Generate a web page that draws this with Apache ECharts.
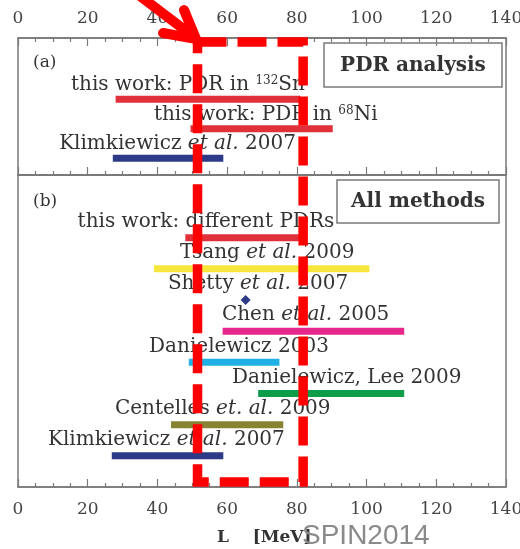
<!DOCTYPE html>
<html><head><meta charset="utf-8">
<script src="https://cdn.jsdelivr.net/npm/echarts@6/dist/echarts.min.js"></script>
<style>html,body{margin:0;padding:0;background:#fff;overflow:hidden}#c{width:520px;height:549px}</style>
</head><body><div id="c"></div>
<script>
// x axis
const xMin = 0, xMax = 140, xStep = 20;

// Panel (a): PDR analysis
const aLabels = ['this work: PDR in {sup|132}Sn', 'this work: PDR in {sup|68}Ni', 'Klimkiewicz {it|et al.} 2007'];
const aLow  = [28.0, 49.5, 27.2];
const aHigh = [81.0, 90.3, 58.9];
const aLabelX = [15.2, 39.0, 11.8];
const aColors = ['#e0313b', '#e0313b', '#2d3a88'];

// Panel (b): All methods
const bLabels = ['this work: different PDRs', 'Tsang {it|et al.} 2009', 'Shetty {it|et al.} 2007', 'Chen {it|et al.} 2005',
  'Danielewicz 2003', 'Danielewicz, Lee 2009', 'Centelles {it|et. al.} 2009', 'Klimkiewicz {it|et al.} 2007'];
const bLow  = [48.0, 39.0, 65.3, 58.7, 49.0, 68.9, 43.9, 26.9];
const bHigh = [81.0, 100.8, 65.3, 110.8, 75.0, 110.8, 76.1, 58.9];
const bLabelX = [17.1, 46.5, 43.0, 58.5, 37.6, 61.4, 27.8, 8.6];
const bColors = ['#e0313b', '#f6e53a', '#2d3a88', '#e6288a', '#1fb1e6', '#0c9d4b', '#878333', '#2d3a88'];

// highlighted L-range (red dashed box)
const highlight = [51.5, 81.8];

const SERIF = 'DejaVu Serif';
const GRAY = '#7a7a7a';
const TXT = '#333';

function makeRender(labels, colors, labelDy) {
  return function (params, api) {
    const i = params.dataIndex;
    const lo = api.value(0), hi = api.value(1), row = api.value(2), lx = api.value(3);
    const p0 = api.coord([lo, row]), p1 = api.coord([hi, row]), pl = api.coord([lx, row]);
    const children = [];
    if (hi > lo) {
      children.push({type: 'rect', shape: {x: p0[0], y: p0[1] - 3.5, width: p1[0] - p0[0], height: 7}, style: {fill: colors[i]}});
    } else {
      children.push({type: 'polygon', shape: {points: [[p0[0], p0[1] - 5], [p0[0] + 5, p0[1]], [p0[0], p0[1] + 5], [p0[0] - 5, p0[1]]]}, style: {fill: colors[i]}});
    }
    children.push({
      type: 'text', x: pl[0], y: pl[1] + labelDy,
      style: {
        text: labels[i], fontFamily: SERIF, fontSize: 20, fill: TXT, align: 'left', verticalAlign: 'middle',
        rich: {
          sup: {fontFamily: SERIF, fontSize: 12, fill: TXT, verticalAlign: 'top'},
          it: {fontFamily: SERIF, fontSize: 20, fontStyle: 'italic', fill: TXT}
        }
      }
    });
    return {type: 'group', children};
  };
}

function xAxisCfg(grid, pos, showLabel, margin) {
  return {
    type: 'value', gridIndex: grid, position: pos, min: xMin, max: xMax, interval: xStep,
    axisLine: {show: true, onZero: false, lineStyle: {color: GRAY, width: 1.5}},
    axisTick: {show: true, inside: true, length: 8, lineStyle: {color: GRAY, width: 1.2}},
    minorTick: {show: true, splitNumber: 4, length: 4, lineStyle: {color: GRAY, width: 1.2}},
    splitLine: {show: false},
    axisLabel: {show: showLabel, margin: margin, fontFamily: SERIF, fontSize: 17, color: '#444'}
  };
}

const chart = echarts.init(document.getElementById('c'), null, {renderer: 'canvas', width: 520, height: 549});
chart.setOption({
  animation: false,
  grid: [
    {left: 18, right: 14, top: 38, height: 137, outerBoundsMode: 'none', containLabel: false, show: true, borderColor: GRAY, borderWidth: 1.5, backgroundColor: 'transparent'},
    {left: 18, right: 14, top: 175, bottom: 62, outerBoundsMode: 'none', containLabel: false, show: true, borderColor: GRAY, borderWidth: 1.5, backgroundColor: 'transparent'}
  ],
  xAxis: [
    xAxisCfg(0, 'top', true, 11),
    xAxisCfg(0, 'bottom', false, 8),
    xAxisCfg(1, 'bottom', true, 14)
  ],
  yAxis: [
    {type: 'value', gridIndex: 0, min: -2.08, max: 2.57, inverse: true, show: false},
    {type: 'value', gridIndex: 1, min: -2.01, max: 8.0, inverse: true, show: false}
  ],
  series: [
    {type: 'custom', xAxisIndex: 0, yAxisIndex: 0, clip: false,
      renderItem: makeRender(aLabels, aColors, -14),
      data: aLow.map((v, i) => [v, aHigh[i], i, aLabelX[i]])},
    {type: 'custom', xAxisIndex: 2, yAxisIndex: 1, clip: false,
      renderItem: makeRender(bLabels, bColors, -16),
      data: bLow.map((v, i) => [v, bHigh[i], i, bLabelX[i]])}
  ]
});

const xl = chart.convertToPixel({xAxisIndex: 0}, highlight[0]);
const xr = chart.convertToPixel({xAxisIndex: 0}, highlight[1]);

chart.setOption({
  graphic: [
    {type: 'text', left: 33, top: 54, style: {text: '(a)', fontFamily: SERIF, fontSize: 17, fill: TXT}},
    {type: 'text', left: 33, top: 193, style: {text: '(b)', fontFamily: SERIF, fontSize: 17, fill: TXT}},
    {type: 'rect', shape: {x: 324, y: 43, width: 178, height: 44}, style: {fill: '#fff', stroke: GRAY, lineWidth: 1.5}},
    {type: 'text', x: 413, y: 66, style: {text: 'PDR analysis', fontFamily: SERIF, fontWeight: 'bold', fontSize: 20, fill: TXT, align: 'center', verticalAlign: 'middle'}},
    {type: 'rect', shape: {x: 337, y: 180, width: 162, height: 43}, style: {fill: '#fff', stroke: GRAY, lineWidth: 1.5}},
    {type: 'text', x: 418, y: 202, style: {text: 'All methods', fontFamily: SERIF, fontWeight: 'bold', fontSize: 20, fill: TXT, align: 'center', verticalAlign: 'middle'}},
    {type: 'text', x: 217, y: 538, style: {text: 'L    [MeV]', fontFamily: SERIF, fontWeight: 'bold', fontSize: 17, fill: TXT, align: 'left', verticalAlign: 'middle'}},
    {type: 'text', x: 302, y: 536, style: {text: 'SPIN2014', fontFamily: 'Liberation Sans', fontSize: 28, fill: '#8a8a8a', align: 'left', verticalAlign: 'middle'}},
    {type: 'rect', z: 100, shape: {x: xl, y: 42, width: xr - xl, height: 440}, style: {fill: 'none', stroke: '#ff0000', lineWidth: 9.5, lineDash: [29, 11]}},
    {type: 'line', z: 100, shape: {x1: 140, y1: -4, x2: 194, y2: 37}, style: {stroke: '#ff0000', lineWidth: 10, lineCap: 'butt'}},
    {type: 'polyline', z: 100, shape: {points: [[163, 33], [196, 39], [184, 10]]}, style: {stroke: '#ff0000', fill: 'none', lineWidth: 10, lineCap: 'round', lineJoin: 'miter'}}
  ]
});
</script></body></html>
